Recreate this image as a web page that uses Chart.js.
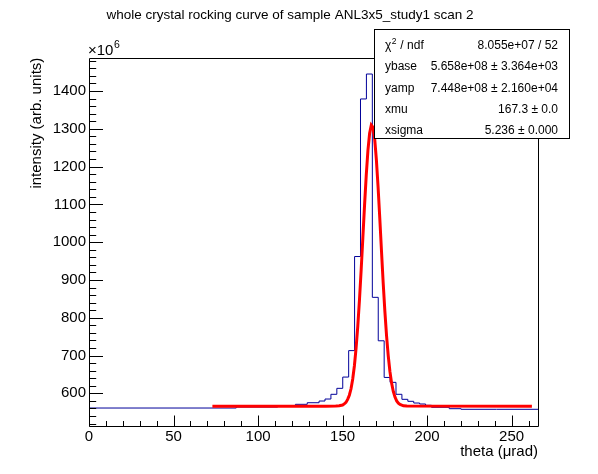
<!DOCTYPE html>
<html><head><meta charset="utf-8">
<script src="https://cdn.jsdelivr.net/npm/chart.js@4.4.1/dist/chart.umd.min.js"></script>
<style>html,body{margin:0;padding:0;background:#fff;} canvas{display:block;}</style>
</head><body>
<canvas id="c" width="598" height="474" style="width:598px;height:474px"></canvas>
<script>
// ---- data ----
const chartTitle = 'whole crystal rocking curve of sample ANL3x5_study1 scan 2';
const xAxisTitle = 'theta (\u03bcrad)';
const yAxisTitle = 'intensity (arb. units)';
const yExponentLabel = '\u00d710';
const yExponent = '6';

// histogram: bin low edges (last entry = upper edge of last bin), values in units of 10^6
const histEdges = [0, 87.1, 111.6, 122.1, 129.1, 136.1, 139.6, 143.1, 146.6, 150.1, 153.6, 157.1, 160.6, 164.1, 167.6, 171.1, 174.6, 178.1, 181.6, 185.1, 188.6, 192.1, 195.6, 199.1, 202.6, 213.1, 220.1, 241.1, 265.6];
const histValues = [558.5, 561.1, 563.7, 566.5, 570.9, 575.1, 579.6, 584.9, 597.4, 613.2, 643, 713, 962, 1379, 1445, 854, 739, 642, 629, 597.4, 584.1, 578.8, 574.3, 571.7, 568.3, 563, 559.3, 557.7];

// fitted curve (red)
const fitTheta = [73, 140, 146, 148, 150, 151, 152, 153, 154, 155, 156, 157, 158, 159, 160, 161, 162, 163, 164, 165, 166, 167, 168, 169, 170, 171, 172, 173, 174, 175, 176, 177, 178, 179, 180, 181, 182, 183, 184, 186, 188, 262];
const fitValues = [566, 566, 566.3, 567, 569, 572, 576, 584, 595, 612, 638, 673, 720, 778, 848, 927, 1012, 1098, 1177, 1243, 1288, 1310, 1304, 1273, 1218, 1146, 1064, 978, 894, 818, 753, 700, 658, 627, 605, 590, 580, 574, 570.5, 567, 566.2, 566];

const xTickValues = [0, 50, 100, 150, 200, 250];
const yTickValues = [600, 700, 800, 900, 1000, 1100, 1200, 1300, 1400];

const statsLabels = ['\u03c7', 'ybase', 'yamp', 'xmu', 'xsigma'];
const statsValues = ['8.055e+07 / 52', '5.658e+08 \u00b1 3.364e+03', '7.448e+08 \u00b1 2.160e+04', '167.3 \u00b1 0.0', '5.236 \u00b1 0.000'];

// ---- chart ----
const FONT = '"Liberation Sans", Arial, Helvetica, sans-serif';

const histPoints = histValues.map((v, i) => ({x: histEdges[i], y: v}));
histPoints.push({x: histEdges[histEdges.length - 1], y: histValues[histValues.length - 1]});
const fitPoints = fitTheta.map((t, i) => ({x: t, y: fitValues[i]}));

const rootPlugin = {
  id: 'rootDecor',
  afterDatasetsDraw(chart) {
    const ctx = chart.ctx, a = chart.chartArea, xs = chart.scales.x, ys = chart.scales.y;
    ctx.save();
    ctx.strokeStyle = '#000';
    ctx.lineWidth = 1;
    const L = Math.round(a.left) + 0.5, R = Math.round(a.right) + 0.5;
    const T = Math.round(a.top) + 0.5, B = Math.round(a.bottom) + 0.5;
    ctx.beginPath();
    ctx.rect(L, T, R - L, B - T);
    // x ticks (inside)
    for (let i = 0; i * 10 <= xs.max; i++) {
      const v = i * 10;
      const px = Math.round(xs.getPixelForValue(v)) + 0.5;
      const len = (v % 50 === 0) ? 11 : 5.5;
      ctx.moveTo(px, B); ctx.lineTo(px, B - len);
    }
    // y ticks (inside)
    for (let i = Math.ceil(ys.min / 20); i * 20 <= ys.max; i++) {
      const v = i * 20;
      const py = Math.round(ys.getPixelForValue(v)) + 0.5;
      const len = (v % 100 === 0) ? 13.5 : 6.7;
      ctx.moveTo(L, py); ctx.lineTo(L + len, py);
    }
    ctx.stroke();

    ctx.fillStyle = '#000';
    // exponent label
    ctx.font = '15px ' + FONT;
    ctx.textAlign = 'left';
    ctx.textBaseline = 'alphabetic';
    ctx.fillText(yExponentLabel, 88, 54.5);
    const w = ctx.measureText(yExponentLabel).width;
    ctx.font = '10.5px ' + FONT;
    ctx.fillText(yExponent, 88 + w + 0.5, 47.5);

    // title
    ctx.font = '13.5px ' + FONT;
    ctx.textAlign = 'center';
    ctx.fillText(chartTitle, 290, 19);

    // x axis title
    ctx.font = '15px ' + FONT;
    ctx.textAlign = 'right';
    ctx.fillText(xAxisTitle, a.right, 456);

    // y axis title
    ctx.save();
    ctx.translate(40.5, a.top);
    ctx.rotate(-Math.PI / 2);
    ctx.textAlign = 'right';
    ctx.fillText(yAxisTitle, 0, 0);
    ctx.restore();
    ctx.restore();
  },
  afterDraw(chart) {
    const ctx = chart.ctx;
    ctx.save();
    const bx = 374.5, by = 29.5, bw = 195, bh = 109;
    ctx.fillStyle = '#fff';
    ctx.fillRect(bx, by, bw, bh);
    ctx.strokeStyle = '#000';
    ctx.lineWidth = 1;
    ctx.strokeRect(bx, by, bw, bh);
    ctx.fillStyle = '#000';
    ctx.textBaseline = 'alphabetic';
    for (let i = 0; i < statsLabels.length; i++) {
      const yb = 49 + 21.35 * i;
      ctx.font = '12px ' + FONT;
      ctx.textAlign = 'left';
      ctx.fillText(statsLabels[i], 385, yb);
      if (i === 0) {
        const cw = ctx.measureText(statsLabels[0]).width;
        ctx.font = '8.5px ' + FONT;
        ctx.fillText('2', 385 + cw + 0.5, yb - 5);
        const sw = ctx.measureText('2').width;
        ctx.font = '12px ' + FONT;
        ctx.fillText(' / ndf', 385 + cw + sw + 1, yb);
      }
      ctx.textAlign = 'right';
      ctx.fillText(statsValues[i], 558, yb);
    }
    ctx.restore();
  }
};

new Chart(document.getElementById('c'), {
  type: 'line',
  data: {
    datasets: [
      { data: histPoints, stepped: 'after', borderColor: '#000099', borderWidth: 1, pointRadius: 0, fill: false, order: 1 },
      { data: fitPoints, borderColor: '#ff0000', borderWidth: 3, pointRadius: 0, fill: false, tension: 0, order: 0 }
    ]
  },
  options: {
    responsive: false,
    animation: false,
    devicePixelRatio: 1,
    layout: { padding: { left: 0, right: 60, top: 57.7, bottom: 0 } },
    plugins: { legend: { display: false }, tooltip: { enabled: false }, title: { display: false } },
    scales: {
      x: {
        type: 'linear', min: 0, max: 265.6,
        grid: { display: false, drawTicks: false }, border: { display: false },
        afterBuildTicks: s => { s.ticks = xTickValues.map(v => ({ value: v })); },
        afterFit: s => { s.height = 48.3; },
        ticks: { font: { family: FONT, size: 15 }, color: '#000', padding: 2, maxRotation: 0, autoSkip: false, callback: v => String(v) }
      },
      y: {
        type: 'linear', min: 514.3, max: 1488.2,
        grid: { display: false, drawTicks: false }, border: { display: false },
        afterBuildTicks: s => { s.ticks = yTickValues.map(v => ({ value: v })); },
        afterFit: s => { s.width = 89; },
        ticks: { font: { family: FONT, size: 15 }, color: '#000', padding: 3, autoSkip: false, callback: v => String(v) }
      }
    }
  },
  plugins: [rootPlugin]
});
</script>
</body></html>
